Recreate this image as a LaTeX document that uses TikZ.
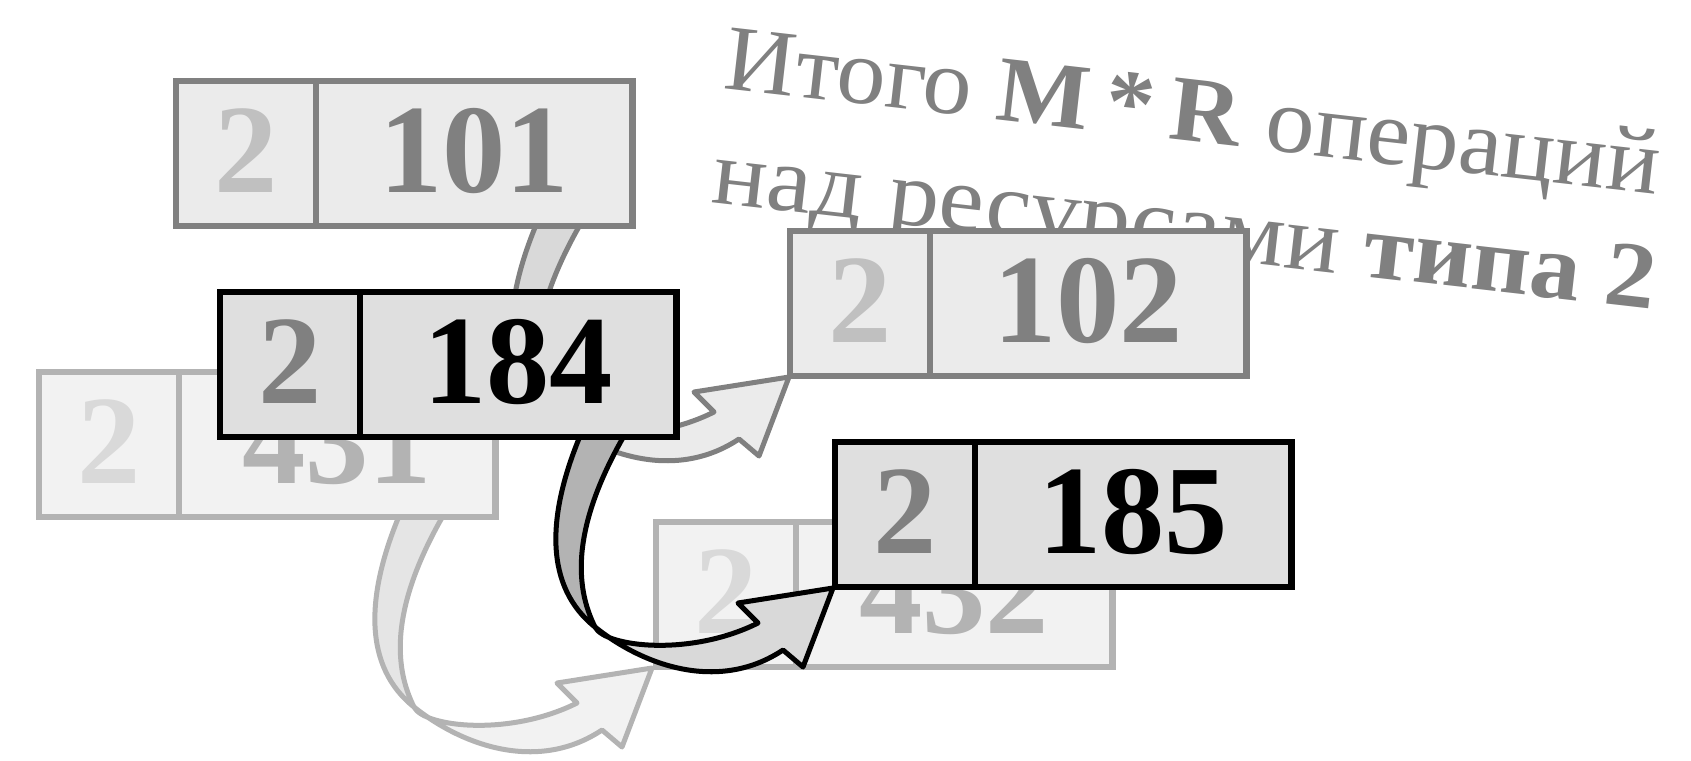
\documentclass[tikz,border=0pt]{standalone}
\usepackage{fontspec}
\setmainfont{Liberation Serif}
\usetikzlibrary{positioning}

\definecolor{frontfill}{HTML}{DFDFDF}
\definecolor{midfill}{HTML}{EBEBEB}
\definecolor{backfill}{HTML}{F2F2F2}
\definecolor{midline}{HTML}{808080}
\definecolor{backline}{HTML}{B3B3B3}
\definecolor{midtype}{HTML}{C0C0C0}
\definecolor{backtype}{HTML}{D9D9D9}

\tikzset{
  cell/.style={draw, outer sep=0pt, inner sep=0pt, minimum height=1.45cm,
    line width=0.065cm, text height=0.84cm, text depth=0.06cm,
    font=\fontsize{36}{40}\selectfont\bfseries},
  typecell/.style={cell, minimum width=1.4cm},
  numcell/.style={cell, minimum width=3.16cm},
  front/.style={fill=frontfill, draw=black},
  middle/.style={fill=midfill, draw=midline},
  back/.style={fill=backfill, draw=backline},
  ribbon/.style={line width=0.05cm, line join=round},
  caption/.style={rotate=-6.5, xscale=#1, anchor=base west, text=midline,
    inner sep=0pt, font=\fontsize{26.6}{32}\selectfont},
  caption/.default=1.05
}

% bent arrow hanging under a box: #1 corner of the box, #2 outline, #3 back side, #4 front side
\newcommand{\bentarrow}[4]{%
  \begin{scope}[shift={#1}]
    \filldraw[ribbon, draw=#2, fill=#3] (363,-8) .. controls (325,80) and (325,150) .. (375,190)
      .. controls (355,150) and (350,90) .. (408,-8) -- cycle;
    \filldraw[ribbon, draw=#2, fill=#4] (375,190) .. controls (425,230) and (500,255) .. (563,213)
      -- (583,230) -- (613,151) -- (518,166) -- (538,186)
      .. controls (470,220) and (385,210) .. (375,190) -- cycle;
  \end{scope}}

\begin{document}
\begin{tikzpicture}[x=0.01cm, y=-0.01cm]
\useasboundingbox (0,0) rectangle (1691,760);

% corners of the boxes
\coordinate (at101) at (176,226);
\coordinate (at102) at (790,376);
\coordinate (at184) at (220,437);
\coordinate (at185) at (835,587);
\coordinate (at431) at (39,517);
\coordinate (at432) at (656,667);

\node[caption] (total1) at (722,88) {Итого \textbf{M\,*\,R} операций};
\node[caption=1.085] (total2) at (710,202) {над ресурсами \textbf{типа 2}};

% far row
\node[typecell, back, text=backtype, anchor=south west] (t432) at (at432) {2};
\node[numcell, back, text=backline, right=0pt of t432] (n432) {432};
\node[typecell, middle, text=midtype, anchor=south west] (t102) at (at102) {2};
\node[numcell, middle, text=midline, right=0pt of t102] (n102) {102};

\bentarrow{(at431)}{backline}{black!10}{backfill}
\node[typecell, back, text=backtype, anchor=south west] (t431) at (at431) {2};
\node[numcell, back, text=backline, right=0pt of t431] (n431) {431};

\bentarrow{(at101)}{midline}{backtype}{midfill}
\node[typecell, middle, text=midtype, anchor=south west] (t101) at (at101) {2};
\node[numcell, middle, text=midline, right=0pt of t101] (n101) {101};

% near row
\bentarrow{(at184)}{black}{backline}{backtype}
\node[typecell, front, text=midline, anchor=south west] (t184) at (at184) {2};
\node[numcell, front, text=black, right=0pt of t184] (n184) {184};
\node[typecell, front, text=midline, anchor=south west] (t185) at (at185) {2};
\node[numcell, front, text=black, right=0pt of t185] (n185) {185};
\end{tikzpicture}
\end{document}
